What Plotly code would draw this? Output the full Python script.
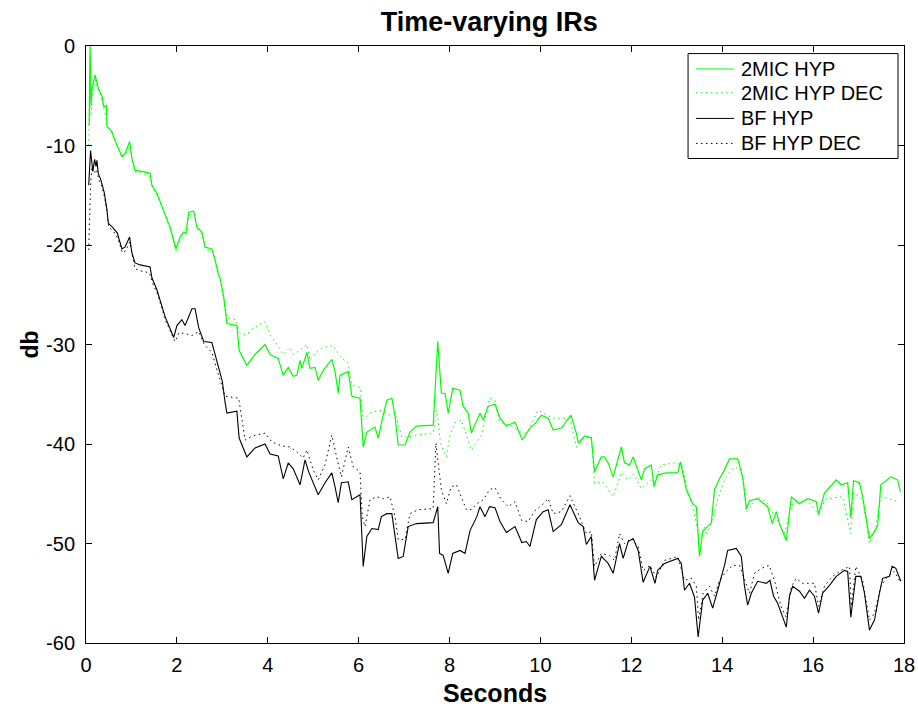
import plotly.graph_objects as go

# ---- data (seconds, dB) ----
g_t = [0.07,0.09,0.11,0.13,0.20,0.24,0.28,0.35,0.39,0.45,0.46,0.57,0.64,0.79,0.86,0.96,1.01,1.08,1.23,1.41,
       1.45,1.56,1.71,1.85,1.98,2.07,2.15,2.20,2.26,2.37,2.44,2.55,2.62,2.77,2.84,2.91,2.95,3.03,3.10,3.32,
       3.37,3.54,3.72,3.94,4.05,4.23,4.34,4.45,4.56,4.64,4.71,4.75,4.86,4.93,5.04,5.11,5.22,5.41,5.48,5.55,
       5.59,5.77,5.85,6.03,6.10,6.18,6.36,6.43,6.50,6.62,6.73,6.80,6.87,7.02,7.13,7.27,7.64,7.74,7.82,7.90,
       7.97,8.07,8.23,8.30,8.41,8.48,8.60,8.67,8.74,8.85,9.00,9.11,9.25,9.44,9.60,9.77,9.91,10.02,10.17,10.28,
       10.46,10.67,10.79,10.83,10.97,11.12,11.19,11.34,11.41,11.49,11.60,11.71,11.78,11.85,11.96,12.04,12.22,12.29,12.44,12.50,
       12.58,12.77,13.02,13.08,13.21,13.35,13.43,13.50,13.57,13.76,13.83,13.94,14.05,14.16,14.34,14.45,14.53,14.60,14.78,15.00,
       15.10,15.19,15.26,15.41,15.52,15.70,15.88,16.07,16.12,16.25,16.51,16.62,16.76,16.83,16.89,17.02,17.09,17.24,17.35,17.42,
       17.49,17.71,17.86,17.92]
g_db = [-8,0,-6,-4.4,-2.9,-3.8,-4.4,-5.0,-6.1,-6.0,-8.1,-8.6,-9.5,-11.1,-10.8,-9.6,-11.3,-12.5,-12.6,-12.8,
        -14.0,-14.8,-16.5,-18.2,-20.4,-19.2,-18.7,-18.8,-16.7,-16.6,-18.2,-18.7,-20.2,-20.4,-21.5,-22.9,-23.3,-25.2,-27.9,-28.1,
        -30.6,-32.1,-31.0,-30.0,-31.0,-31.4,-33.1,-32.3,-33.2,-33.1,-31.6,-32.4,-30.8,-32.4,-32.3,-33.6,-32.6,-31.5,-32.7,-34.9,
        -33.1,-32.7,-35.2,-35.4,-40.3,-38.8,-38.3,-39.4,-37.9,-35.6,-35.4,-37.2,-40.1,-40.1,-38.8,-38.2,-38.1,-29.7,-34.9,-34.9,
        -36.9,-34.4,-34.6,-36.2,-36.9,-38.9,-37.6,-36.9,-37.6,-36.2,-36.0,-37.4,-38.2,-37.8,-39.6,-38.4,-37.8,-37.1,-37.4,-38.6,
        -38.4,-37.1,-38.9,-39.9,-39.2,-39.4,-42.8,-41.3,-41.3,-41.9,-43.3,-41.3,-40.3,-41.9,-42.1,-41.3,-43.6,-42.5,-42.1,-44.3,
        -43.1,-42.9,-42.9,-41.8,-44.6,-46.0,-46.3,-51.3,-48.8,-47.9,-44.6,-43.5,-42.6,-41.5,-41.5,-43.3,-46.5,-45.7,-45.5,-46.3,
        -48.0,-46.8,-48.0,-49.7,-45.3,-46.0,-45.5,-45.8,-47.1,-44.9,-43.6,-44.1,-43.9,-47.4,-43.7,-43.9,-45.3,-49.5,-48.8,-48.2,
        -44.1,-43.3,-43.6,-44.8]

gd_t = [0.06,0.09,0.11,0.14,0.20,0.25,0.30,0.36,0.40,0.46,0.58,0.66,0.80,0.87,0.96,1.02,1.10,1.25,1.40,1.46,
        1.58,1.72,1.86,1.98,2.08,2.20,2.27,2.38,2.45,2.56,2.63,2.78,2.86,2.95,3.04,3.11,3.30,3.38,3.52,3.70,
        3.94,4.05,4.23,4.34,4.49,4.56,4.70,4.86,4.93,5.05,5.22,5.44,5.59,5.77,5.85,6.03,6.10,6.25,6.47,6.69,
        6.80,6.95,7.10,7.27,7.64,7.72,7.80,7.93,8.00,8.11,8.26,8.48,8.70,8.88,9.00,9.10,9.35,9.60,9.70,9.95,
        10.10,10.28,10.46,10.65,10.79,10.95,11.12,11.19,11.37,11.60,11.78,11.93,12.05,12.22,12.44,12.51,12.66,12.96,13.11,13.25,
        13.40,13.50,13.61,13.65,13.79,13.90,14.05,14.23,14.38,14.49,14.53,14.78,15.00,15.19,15.37,15.52,15.85,16.12,16.28,16.65,
        16.83,16.89,17.09,17.24,17.38,17.49,17.68,17.90]
gd_db = [-10,-1,-7,-4.8,-3.4,-4.2,-4.8,-5.5,-6.6,-7.8,-8.9,-9.8,-11.3,-10.9,-10.0,-11.6,-12.7,-12.8,-13.1,-14.2,
         -15.1,-16.8,-18.5,-20.6,-19.5,-19.0,-17.0,-16.9,-18.4,-19.0,-20.5,-20.6,-21.8,-23.5,-25.5,-27.3,-27.5,-28.8,-29.0,-28.3,
         -27.7,-29.0,-30.2,-31.0,-30.3,-31.0,-30.6,-30.0,-31.6,-30.8,-30.3,-30.1,-31.2,-31.9,-34.1,-34.3,-37.6,-36.9,-36.6,-37.1,
         -36.9,-39.3,-39.3,-39.1,-38.9,-36.6,-39.9,-41.3,-39.3,-37.9,-37.6,-40.6,-39.1,-35.4,-35.6,-37.8,-38.2,-38.9,-38.9,-36.6,
         -37.0,-37.4,-37.4,-37.5,-40.3,-39.5,-39.2,-43.9,-43.8,-45.3,-42.9,-43.6,-43.0,-44.5,-43.6,-43.8,-42.1,-41.9,-42.1,-44.8,
         -47.3,-49.6,-48.3,-49.2,-47.6,-45.6,-43.6,-42.4,-42.4,-44.2,-46.9,-45.3,-46.0,-47.6,-49.0,-46.1,-45.6,-47.0,-45.5,-45.3,
         -49.0,-44.9,-45.6,-50.0,-48.3,-45.3,-45.5,-45.8]

b_t = [0.06,0.10,0.15,0.19,0.22,0.24,0.27,0.33,0.40,0.46,0.49,0.58,0.69,0.79,0.86,0.96,1.01,1.08,1.19,1.41,
       1.45,1.56,1.74,1.93,2.00,2.11,2.18,2.33,2.40,2.48,2.59,2.77,2.84,2.95,3.00,3.06,3.10,3.32,3.37,3.54,
       3.72,3.94,4.05,4.23,4.34,4.45,4.56,4.71,4.82,4.90,4.97,5.11,5.26,5.41,5.48,5.55,5.62,5.77,5.85,6.03,
       6.10,6.18,6.29,6.43,6.50,6.62,6.73,6.80,6.87,6.98,7.09,7.27,7.64,7.74,7.78,7.86,7.97,8.07,8.23,8.34,
       8.45,8.60,8.67,8.78,8.88,9.00,9.11,9.25,9.44,9.59,9.69,9.77,9.91,10.06,10.17,10.28,10.46,10.65,10.83,10.94,
       11.01,11.12,11.19,11.34,11.49,11.60,11.74,11.82,11.93,12.04,12.15,12.26,12.41,12.52,12.58,12.73,13.02,13.10,13.17,13.28,
       13.39,13.47,13.54,13.57,13.68,13.79,13.90,13.98,14.05,14.12,14.31,14.42,14.49,14.56,14.64,14.78,14.97,15.05,15.13,15.22,
       15.33,15.41,15.48,15.55,15.70,15.81,15.92,16.03,16.12,16.21,16.36,16.51,16.69,16.76,16.83,16.94,17.05,17.13,17.24,17.35,
       17.46,17.53,17.68,17.74,17.82,17.93]
b_db = [-14.0,-10.5,-12.6,-11.4,-12.1,-11.5,-12.8,-13.5,-14.7,-16.4,-17.8,-18.2,-18.8,-20.4,-20.2,-19.2,-20.8,-21.8,-22.0,-22.2,
        -23.3,-24.5,-27.2,-29.3,-28.1,-27.5,-28.1,-26.4,-26.4,-28.3,-29.7,-29.8,-31.0,-32.9,-33.7,-35.8,-36.9,-36.7,-39.4,-41.3,
        -40.4,-40.0,-41.0,-41.2,-43.5,-41.9,-42.5,-44.1,-41.6,-42.8,-43.6,-45.1,-43.9,-42.9,-44.3,-45.9,-43.9,-43.8,-45.6,-45.1,
        -52.3,-49.3,-48.5,-48.6,-47.3,-47.0,-47.0,-49.3,-51.5,-51.3,-48.3,-48.0,-47.9,-46.3,-51.0,-51.2,-53.0,-51.0,-50.7,-51.0,
        -48.7,-47.3,-46.3,-47.3,-46.3,-46.4,-47.8,-48.9,-48.3,-49.9,-49.8,-50.3,-47.6,-46.8,-46.6,-48.8,-48.1,-46.1,-47.9,-48.3,
        -50.1,-49.3,-53.7,-51.3,-52.0,-53.0,-50.0,-51.5,-49.8,-49.5,-50.7,-53.9,-52.3,-54.0,-52.7,-52.0,-51.5,-52.0,-54.7,-54.0,
        -55.4,-59.4,-56.5,-55.7,-55.0,-56.5,-54.7,-53.5,-52.2,-50.7,-50.5,-51.3,-54.3,-56.2,-55.0,-53.8,-54.0,-53.7,-55.3,-56.0,
        -57.5,-58.4,-55.3,-54.3,-54.8,-55.5,-54.7,-55.3,-57.0,-55.0,-54.2,-53.3,-52.7,-52.8,-57.4,-53.3,-53.3,-55.0,-58.7,-57.7,
        -55.0,-53.5,-53.3,-52.3,-52.5,-53.8]

bd_t = [0.06,0.10,0.13,0.18,0.23,0.28,0.34,0.41,0.47,0.50,0.60,0.70,0.80,0.87,0.96,1.02,1.08,1.20,1.40,1.46,
        1.58,1.75,1.96,2.05,2.18,2.33,2.48,2.60,2.77,2.90,3.06,3.36,3.50,3.65,3.94,4.09,4.31,4.49,4.64,4.78,
        4.86,5.00,5.11,5.26,5.41,5.52,5.62,5.77,5.88,6.03,6.08,6.14,6.25,6.40,6.55,6.69,6.80,6.87,7.02,7.13,
        7.31,7.64,7.70,7.75,7.82,7.93,8.04,8.15,8.26,8.37,8.48,8.60,8.74,8.88,9.00,9.14,9.29,9.44,9.59,9.73,
        9.88,10.02,10.17,10.28,10.46,10.65,10.83,11.01,11.12,11.19,11.34,11.52,11.63,11.74,11.85,12.00,12.15,12.26,12.41,12.55,
        12.73,13.02,13.17,13.32,13.43,13.48,13.58,13.72,13.83,13.94,14.09,14.23,14.38,14.49,14.60,14.71,14.86,15.03,15.15,15.29,
        15.41,15.52,15.63,15.77,15.92,16.03,16.12,16.25,16.43,16.62,16.80,16.84,16.94,17.09,17.24,17.35,17.49,17.64,17.79,17.93]
bd_db = [-20.5,-14.0,-12.2,-12.8,-12.4,-13.4,-14.0,-15.2,-16.9,-18.2,-18.6,-19.3,-20.8,-20.6,-19.7,-21.2,-22.4,-22.6,-22.8,-23.8,
         -25.0,-27.6,-29.7,-28.8,-28.9,-29.1,-28.7,-30.0,-30.8,-32.8,-35.2,-35.4,-39.6,-39.2,-38.9,-39.8,-40.2,-40.3,-40.8,-41.4,
         -40.6,-42.6,-43.6,-42.1,-39.1,-41.4,-43.3,-40.3,-42.3,-42.8,-47.3,-48.3,-45.6,-45.3,-45.5,-45.3,-47.3,-49.6,-49.6,-47.0,
         -46.6,-46.5,-39.9,-41.9,-44.6,-46.0,-44.3,-44.1,-45.3,-46.6,-46.6,-46.0,-45.6,-44.6,-44.4,-45.6,-46.3,-45.8,-47.7,-47.8,
         -46.7,-46.2,-45.5,-47.0,-46.8,-45.2,-47.0,-49.0,-48.8,-52.3,-51.0,-51.2,-51.7,-49.0,-50.0,-49.5,-50.3,-52.7,-52.2,-53.4,
         -51.7,-51.3,-53.7,-53.5,-54.3,-57.7,-55.0,-54.3,-55.3,-53.7,-52.8,-52.2,-52.2,-53.7,-55.0,-53.0,-52.5,-52.2,-53.7,-56.3,
         -57.4,-54.3,-53.5,-54.0,-54.0,-54.0,-56.3,-54.3,-53.3,-52.7,-52.3,-56.3,-52.3,-53.7,-57.7,-57.0,-54.3,-53.3,-52.8,-54.0]

series_names = ["2MIC HYP", "2MIC HYP DEC", "BF HYP", "BF HYP DEC"]
x_ticks = [0, 2, 4, 6, 8, 10, 12, 14, 16, 18]
y_ticks = [0, -10, -20, -30, -40, -50, -60]

FONT = "Liberation Sans, Arial, Helvetica, sans-serif"
GREEN = "#00ff00"
DOT = "1.5px,3.5px"

styles = [dict(color=GREEN, width=1.2),
          dict(color=GREEN, width=1, dash=DOT),
          dict(color="black", width=1.1),
          dict(color="black", width=1, dash=DOT)]
data = [(g_t, g_db), (gd_t, gd_db), (b_t, b_db), (bd_t, bd_db)]

fig = go.Figure()
for (xs, ys), name, st in zip(data, series_names, styles):
    fig.add_trace(go.Scatter(x=xs, y=ys, mode="lines", name=name, line=st, showlegend=False))

# ---- hand-built legend box (paper coordinates) ----
box = dict(x0=0.736, x1=0.9927, y0=0.8116, y1=0.9873)
row_y = [0.9615, 0.9217, 0.8787, 0.8368]
fig.add_shape(type="rect", xref="paper", yref="paper", **box,
              line=dict(color="black", width=1), fillcolor="white", layer="above")
for ry, name, st in zip(row_y, series_names, styles):
    fig.add_shape(type="line", xref="paper", yref="paper", x0=0.7457, x1=0.7922, y0=ry, y1=ry,
                  line=dict(color=st["color"], width=1, dash=st.get("dash", "solid")), layer="above")
    fig.add_annotation(xref="paper", yref="paper", x=0.7987, y=ry, text=name, showarrow=False,
                       xanchor="left", yanchor="middle",
                       font=dict(family=FONT, size=20, color="black"))

axis_common = dict(showline=True, linecolor="black", linewidth=1, mirror="allticks",
                   ticks="inside", ticklen=6, tickcolor="black", showgrid=False, zeroline=False,
                   automargin=False,
                   tickfont=dict(family=FONT, size=20, color="black"))

fig.update_layout(
    width=918, height=709, autosize=False,
    margin=dict(l=86, r=14, t=46, b=66, pad=0),
    paper_bgcolor="white", plot_bgcolor="white",
    title=dict(text="<b>Time-varying IRs</b>", x=0.493, xref="paper", y=1 - 22 / 709,
               yref="container", xanchor="center", yanchor="middle", automargin=False,
               font=dict(family=FONT, size=27, color="black")),
    xaxis=dict(range=[0, 18], tickvals=x_ticks, ticktext=[str(v) for v in x_ticks],
               ticklabelstandoff=4,
               title=dict(text="<b>Seconds</b>", standoff=9,
                          font=dict(family=FONT, size=25, color="black")),
               **axis_common),
    yaxis=dict(range=[-60, 0], tickvals=y_ticks, ticktext=[str(v) for v in y_ticks],
               ticklabelstandoff=6,
               title=dict(text="<b>db</b>", standoff=1,
                          font=dict(family=FONT, size=23, color="black")),
               **axis_common),
    showlegend=False,
)

fig.write_html("out.html", config={"responsive": False})
